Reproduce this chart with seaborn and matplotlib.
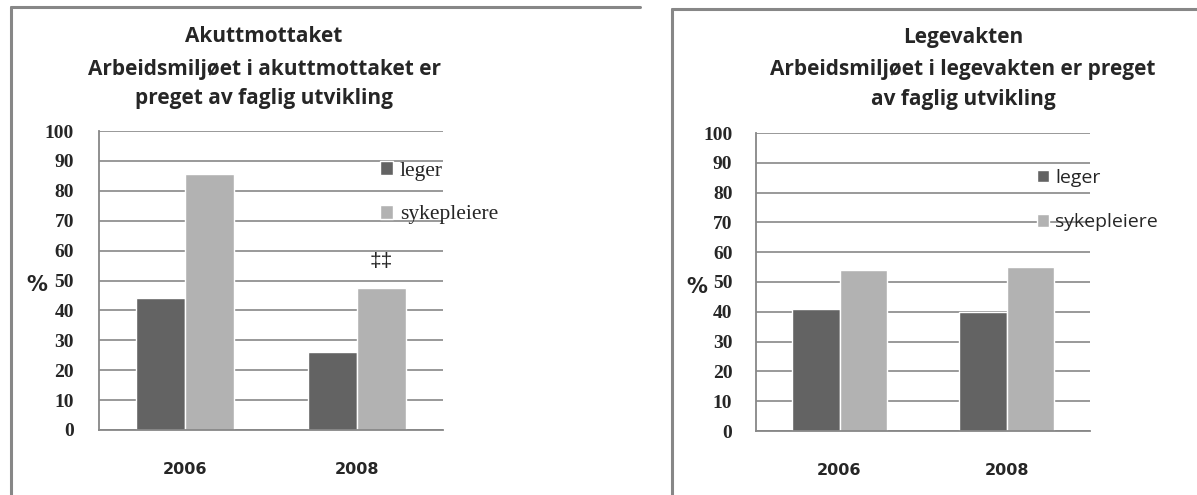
import matplotlib
matplotlib.use("Agg")
import matplotlib.pyplot as plt
from matplotlib.lines import Line2D
import pandas as pd
import seaborn as sns

years = ["2006", "2008"]
groups = ["leger", "sykepleiere"]
akutt_leger = [44, 26]
akutt_syk = [85.5, 47.5]
legevakt_leger = [41, 40]
legevakt_syk = [54, 55]
yticks = list(range(0, 101, 10))
titles_akutt = ["Akuttmottaket",
                "Arbeidsmiljøet i akuttmottaket er",
                "preget av faglig utvikling"]
titles_legevakt = ["Legevakten",
                   "Arbeidsmiljøet i legevakten er preget",
                   "av faglig utvikling"]
palette = {"leger": "#636363", "sykepleiere": "#b2b2b2"}
GRID = "#878787"


def long_table(leger, syk):
    return pd.DataFrame({
        "år": years * 2,
        "gruppe": [groups[0]] * len(years) + [groups[1]] * len(years),
        "prosent": list(leger) + list(syk),
    })


sns.set_style("white")
plt.rcParams["font.family"] = ["DejaVu Sans"]

W, H = 1197, 495
fig = plt.figure(figsize=(W / 100, H / 100), dpi=100)
fig.patch.set_facecolor("white")


def box(l, t, r, b):
    return [l / W, 1 - b / H, (r - l) / W, (b - t) / H]


def px(x, y):
    return x / W, 1 - y / H


def panel(rect, leger, syk, ypad, legend_xy, legend_font, spacing):
    ax = fig.add_axes(rect)
    sns.barplot(data=long_table(leger, syk), x="år", y="prosent", hue="gruppe",
                order=years, hue_order=groups, palette=palette, width=0.57,
                saturation=1, errorbar=None, ax=ax)
    ax.set_ylim(0, 100)
    ax.set_xlim(-0.5, len(years) - 0.5)
    ax.set_yticks(yticks)
    ax.set_yticklabels([str(v) for v in yticks],
                       fontfamily="Liberation Serif", fontweight="bold",
                       fontsize=14)
    ax.set_xticks(range(len(years)))
    ax.set_xticklabels(years, fontfamily="DejaVu Sans", fontweight="bold",
                       fontsize=11.5)
    ax.tick_params(axis="y", length=0, pad=ypad)
    ax.tick_params(axis="x", length=0, pad=23)
    ax.set_xlabel("")
    ax.set_ylabel("")
    ax.set_axisbelow(True)
    ax.yaxis.grid(True, color=GRID, lw=1.2)
    ax.xaxis.grid(False)
    for side in ("top", "right"):
        ax.spines[side].set_visible(False)
    for side in ("left", "bottom"):
        ax.spines[side].set_color(GRID)
        ax.spines[side].set_linewidth(1.3)
    handles, labels = ax.get_legend_handles_labels()
    ax.legend(handles, labels, loc="upper left",
              bbox_to_anchor=px(*legend_xy), bbox_transform=fig.transFigure,
              frameon=False, borderpad=0, borderaxespad=0,
              handlelength=0.62, handleheight=0.62, handletextpad=0.3,
              labelspacing=spacing, prop=legend_font)
    return ax


ax1 = panel(box(99, 131, 443, 430), akutt_leger, akutt_syk, 18,
            (380, 161), {"family": "Liberation Serif", "size": 15.5}, 1.12)
ax2 = panel(box(756, 133, 1090, 431), legevakt_leger, legevakt_syk, 17,
            (1037, 169), {"family": "Open Sans", "size": 14}, 1.35)

# significance mark above the 2008 nurses' bar
bar = ax1.containers[1][1]
ax1.annotate("‡‡", (bar.get_x() + bar.get_width() / 2, bar.get_height()),
             xytext=(0, 19), textcoords="offset points",
             ha="center", va="center", fontsize=15,
             fontfamily="Liberation Sans")

# titles
for lines, cx, baselines in ((titles_akutt, 264, (42, 75, 104)),
                             (titles_legevakt, 963, (43, 75, 105))):
    for line, yb in zip(lines, baselines):
        fig.text(*px(cx, yb), line, ha="center", va="baseline",
                 fontfamily="Open Sans", fontweight="bold", fontsize=15)

# axis unit labels
fig.text(*px(37, 285), "%", ha="center", va="center",
         fontfamily="DejaVu Sans", fontweight="bold", fontsize=15)
fig.text(*px(697, 287), "%", ha="center", va="center",
         fontfamily="DejaVu Sans", fontweight="bold", fontsize=15)

# chart frames (left and top edges)
for pts in (((11, 7), (11, 495)), ((11, 7), (640, 7)),
            ((672, 9), (672, 495)), ((672, 9), (1197, 9))):
    (x0, y0), (x1, y1) = pts
    fig.add_artist(Line2D([x0 / W, x1 / W], [1 - y0 / H, 1 - y1 / H],
                          transform=fig.transFigure, color=GRID, lw=2.2))

fig.savefig("out.png", dpi=100, facecolor="white")
